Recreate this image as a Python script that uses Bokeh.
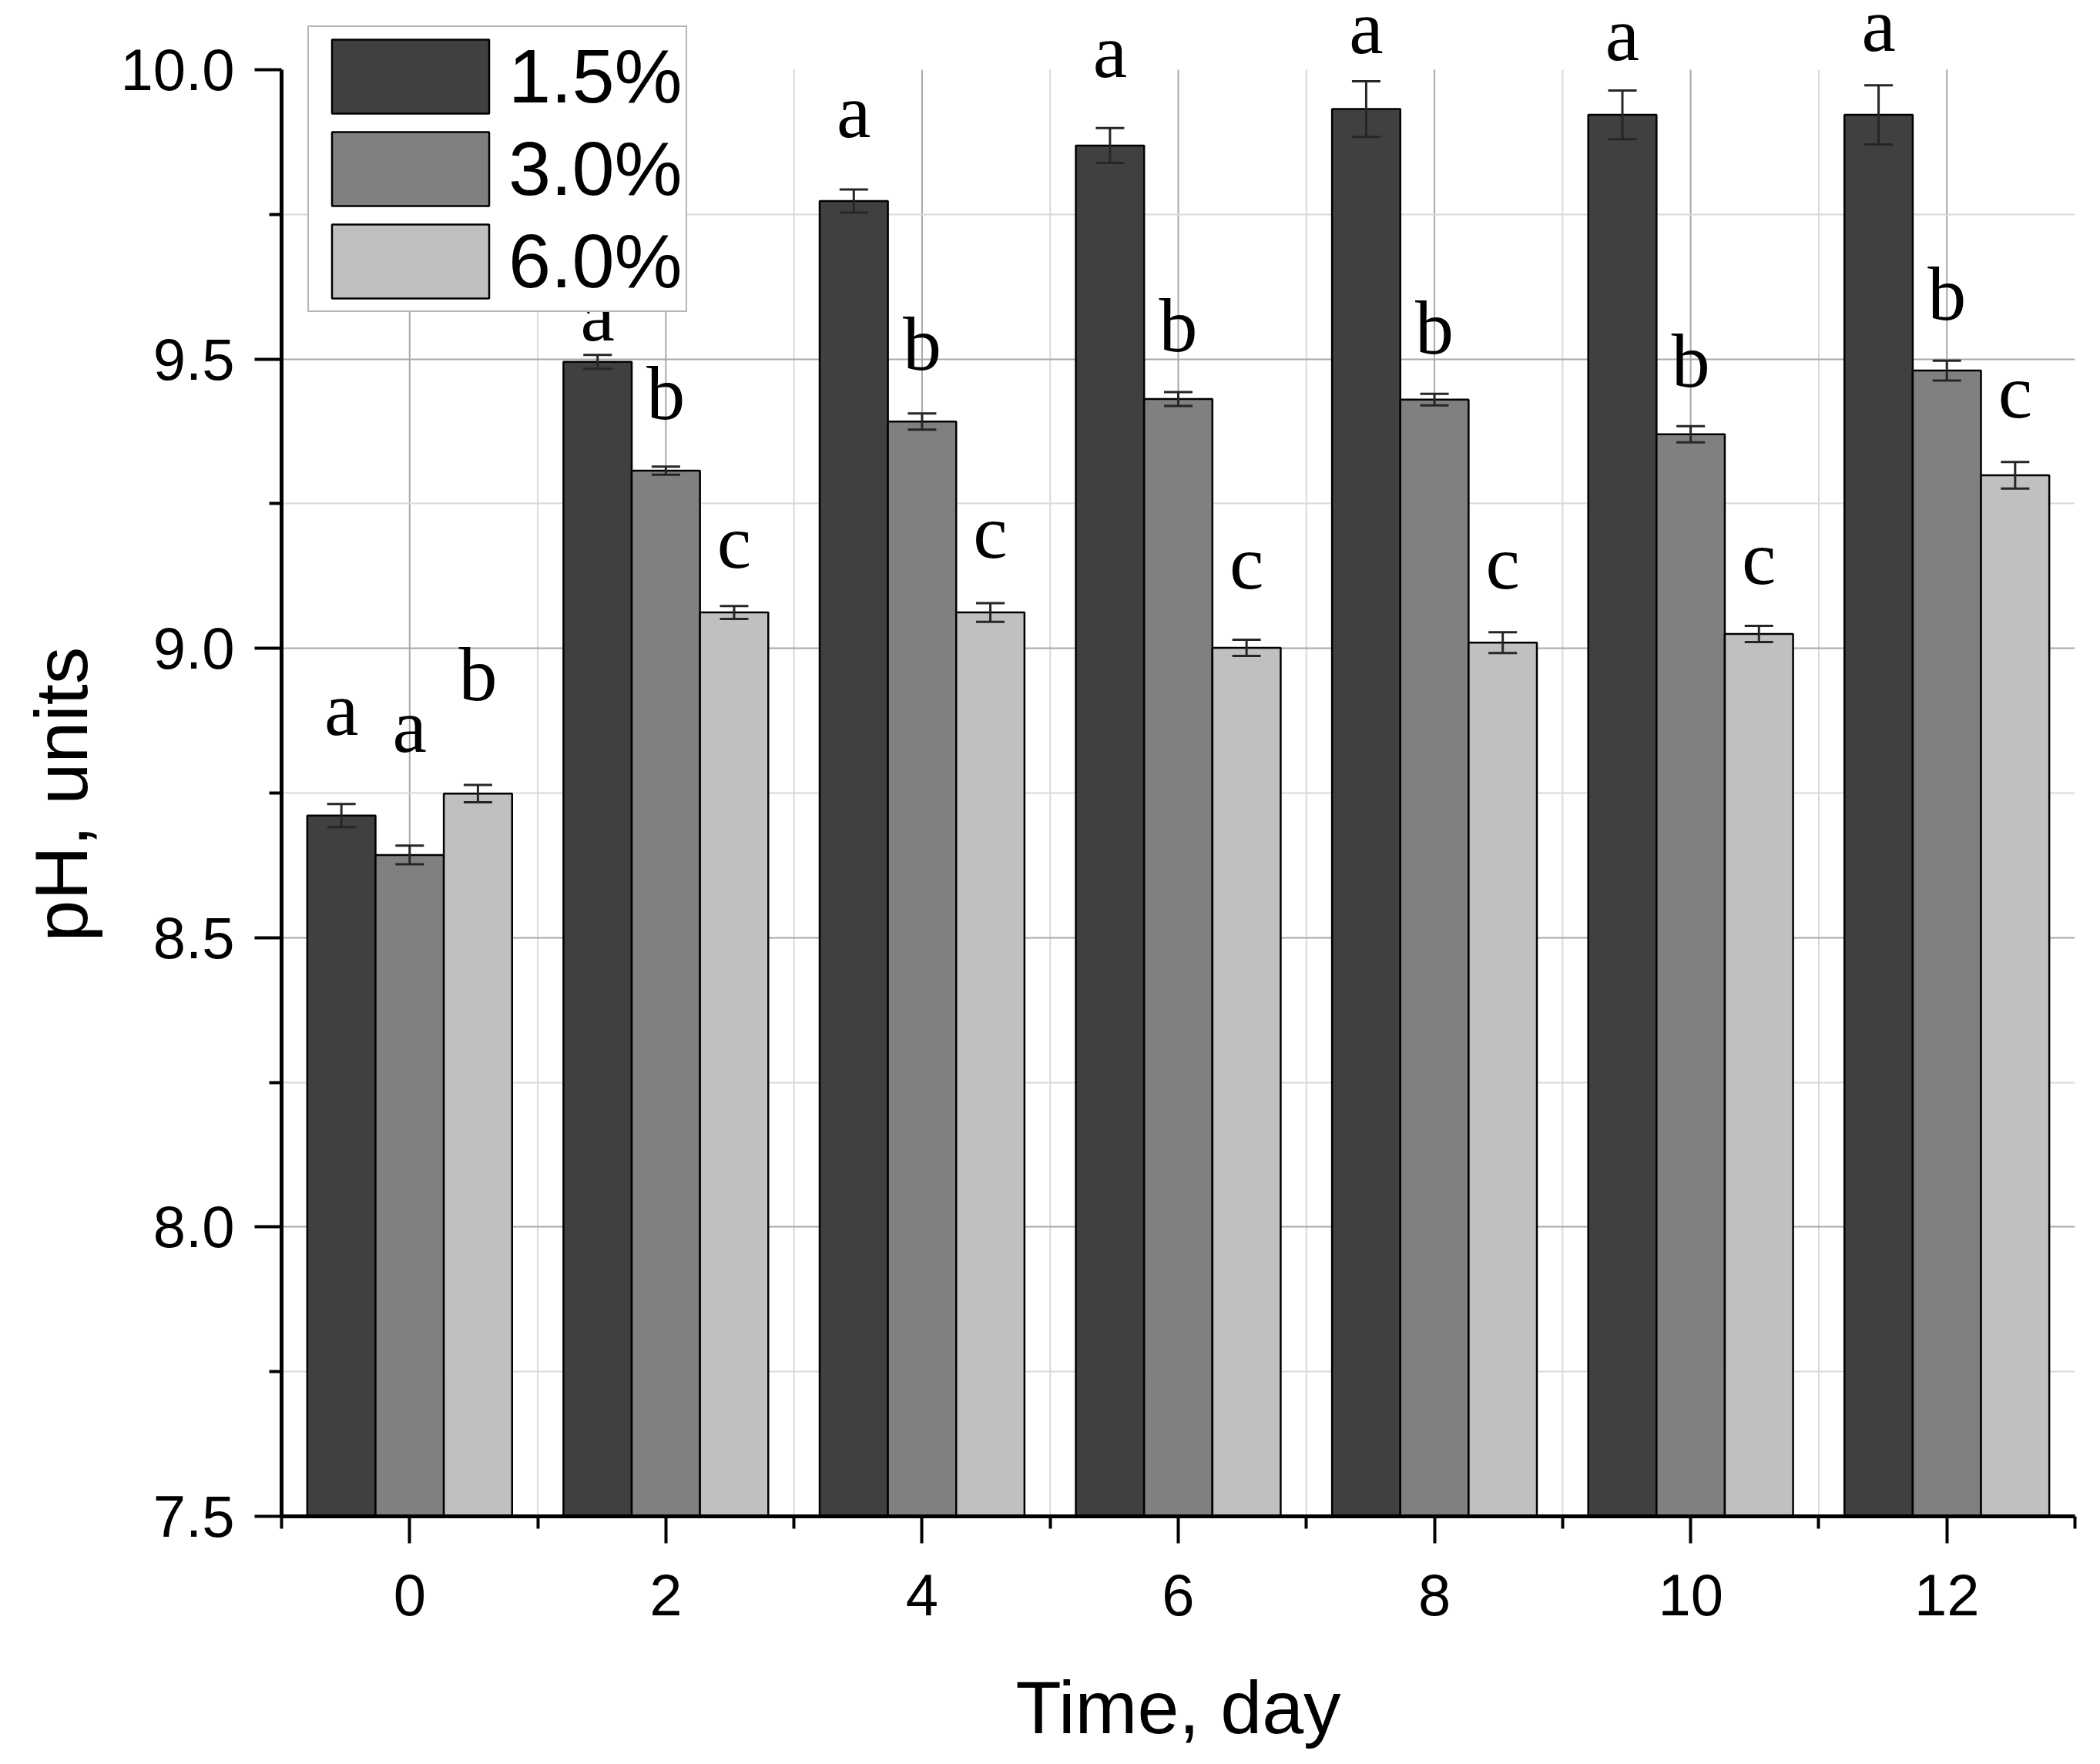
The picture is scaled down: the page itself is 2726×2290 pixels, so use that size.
import numpy as np
from bokeh.plotting import figure
from bokeh.models import (ColumnDataSource, FixedTicker, Whisker, TeeHead, LabelSet,
                          Legend, LegendItem, Range1d, Title)
from bokeh.core.properties import value
from bokeh.embed import file_html
from bokeh.resources import INLINE

# ---------------- data ----------------
days = [0, 2, 4, 6, 8, 10, 12]
series_names = ["1.5%", "3.0%", "6.0%"]
series_colors = ["#404040", "#808080", "#c0c0c0"]

ph_15 = [8.711, 9.495, 9.773, 9.869, 9.932, 9.922, 9.922]
ph_30 = [8.643, 9.307, 9.392, 9.431, 9.430, 9.370, 9.480]
ph_60 = [8.749, 9.062, 9.062, 9.001, 9.010, 9.025, 9.299]

err_15 = [0.020, 0.012, 0.020, 0.030, 0.048, 0.042, 0.051]
err_30 = [0.016, 0.007, 0.014, 0.012, 0.010, 0.014, 0.017]
err_60 = [0.015, 0.011, 0.016, 0.014, 0.018, 0.014, 0.023]

letters_15 = ["a", "a", "a", "a", "a", "a", "a"]
letters_30 = ["a", "b", "b", "b", "b", "b", "b"]
letters_60 = ["b", "c", "c", "c", "c", "c", "c"]

letter_y_15 = [8.851, 9.532, 9.884, 9.988, 10.029, 10.016, 10.033]
letter_y_30 = [8.821, 9.396, 9.482, 9.513, 9.509, 9.452, 9.568]
letter_y_60 = [8.910, 9.140, 9.157, 9.103, 9.103, 9.112, 9.399]

x_ticks = [0, 2, 4, 6, 8, 10, 12]
x_minor_ticks = [-1, 1, 3, 5, 7, 9, 11, 13]
x_grid_minor = [1, 3, 5, 7, 9, 11]
y_ticks = [7.5, 8.0, 8.5, 9.0, 9.5, 10.0]
y_tick_labels = ["7.5", "8.0", "8.5", "9.0", "9.5", "10.0"]
y_minor_ticks = [7.75, 8.25, 8.75, 9.25, 9.75]
y_grid_major = [8.0, 8.5, 9.0, 9.5]

values = [ph_15, ph_30, ph_60]
errors = [err_15, err_30, err_60]
letters = [letters_15, letters_30, letters_60]
letter_ys = [letter_y_15, letter_y_30, letter_y_60]

bar_width = 0.533
offsets = [-bar_width, 0.0, bar_width]

# ---------------- figure ----------------
p = figure(width=2710, height=2274,
           x_range=Range1d(-1, 13), y_range=Range1d(7.5, 10.1198),
           output_backend="svg", toolbar_location=None,
           min_border_left=365, min_border_right=17,
           min_border_top=0, min_border_bottom=306)
p.outline_line_color = None
p.background_fill_color = "white"

# vertical grid lines, stopping at the top of the y axis (10.0)
vgrid_major = ColumnDataSource(dict(x=x_ticks))
vgrid_minor = ColumnDataSource(dict(x=x_grid_minor))
p.segment(x0="x", y0=y_ticks[0], x1="x", y1=y_ticks[-1], source=vgrid_minor,
          line_color="#d9d9d9", line_width=2, level="underlay")
p.segment(x0="x", y0=y_ticks[0], x1="x", y1=y_ticks[-1], source=vgrid_major,
          line_color="#a8a8a8", line_width=2, level="underlay")

renderers = []
for name, color, vals, errs, lets, lys, off in zip(series_names, series_colors, values,
                                                     errors, letters, letter_ys, offsets):
    vals_a = np.array(vals)
    errs_a = np.array(errs)
    src = ColumnDataSource(dict(
        x=np.array(days, dtype=float) + off,
        top=vals_a,
        upper=vals_a + errs_a,
        lower=vals_a - errs_a,
        letter=lets,
        ly=lys,
    ))
    r = p.vbar(x="x", top="top", bottom=7.5, width=bar_width, source=src,
               fill_color=color, line_color="black", line_width=2.5)
    renderers.append(r)
    w = Whisker(base="x", upper="upper", lower="lower", source=src, dimension="height",
                line_color="#262626", line_width=3, level="annotation",
                upper_head=TeeHead(size=37, line_color="#262626", line_width=3),
                lower_head=TeeHead(size=37, line_color="#262626", line_width=3))
    p.add_layout(w)
    ls = LabelSet(x="x", y="ly", text="letter", source=src, text_align="center",
                  text_baseline="alphabetic", text_font=value("Liberation Serif"),
                  text_font_size="100px", text_color="black", level="annotation")
    p.add_layout(ls)

# ---------------- axes ----------------
p.xaxis.ticker = FixedTicker(ticks=x_ticks, minor_ticks=x_minor_ticks)
p.yaxis.ticker = FixedTicker(ticks=y_ticks, minor_ticks=y_minor_ticks)
p.yaxis.bounds = (y_ticks[0], y_ticks[-1])
p.yaxis.major_label_overrides = dict(zip(y_ticks, y_tick_labels))
p.xaxis.axis_label = "Time, day"

for ax in (p.xaxis, p.yaxis):
    ax.axis_line_width = 5
    ax.axis_line_color = "black"
    ax.major_tick_line_width = 4
    ax.minor_tick_line_width = 4
    ax.major_tick_line_color = "black"
    ax.minor_tick_line_color = "black"
    ax.major_tick_out = 35
    ax.major_tick_in = 0
    ax.minor_tick_out = 16
    ax.minor_tick_in = 0
    ax.major_label_text_font = "Liberation Sans"
    ax.major_label_text_font_size = "76px"
    ax.major_label_text_color = "black"
    ax.axis_label_text_font = "Liberation Sans"
    ax.axis_label_text_font_size = "97px"
    ax.axis_label_text_font_style = "normal"
    ax.axis_label_text_color = "black"

p.xaxis.major_label_standoff = 40
p.yaxis.major_label_standoff = 26
p.xaxis.axis_label_standoff = 62

# y axis title, centred on the 7.5-10.0 axis span
ytitle = Title(text="pH, units", align="left", offset=746, standoff=40,
               text_font="Liberation Sans", text_font_size="97px",
               text_font_style="normal", text_color="black")
p.add_layout(ytitle, "left")

# ---------------- grids ----------------
p.xgrid.visible = False
p.ygrid.ticker = FixedTicker(ticks=y_grid_major, minor_ticks=y_minor_ticks)
p.ygrid.grid_line_color = "#a8a8a8"
p.ygrid.grid_line_width = 2
p.ygrid.minor_grid_line_color = "#d9d9d9"
p.ygrid.minor_grid_line_width = 2

# ---------------- legend ----------------
legend = Legend(items=[LegendItem(label=n, renderers=[r]) for n, r in zip(series_names, renderers)],
                location=(34, 1563), orientation="vertical",
                glyph_width=255, glyph_height=120, label_standoff=0,
                spacing=0, padding=4, margin=0,
                border_line_color="#6e6e6e", border_line_width=2,
                background_fill_color="white", background_fill_alpha=1.0,
                label_text_font="Liberation Sans", label_text_font_size="99px",
                label_text_color="black")
p.add_layout(legend)

open("out.html", "w").write(file_html(p, INLINE))
